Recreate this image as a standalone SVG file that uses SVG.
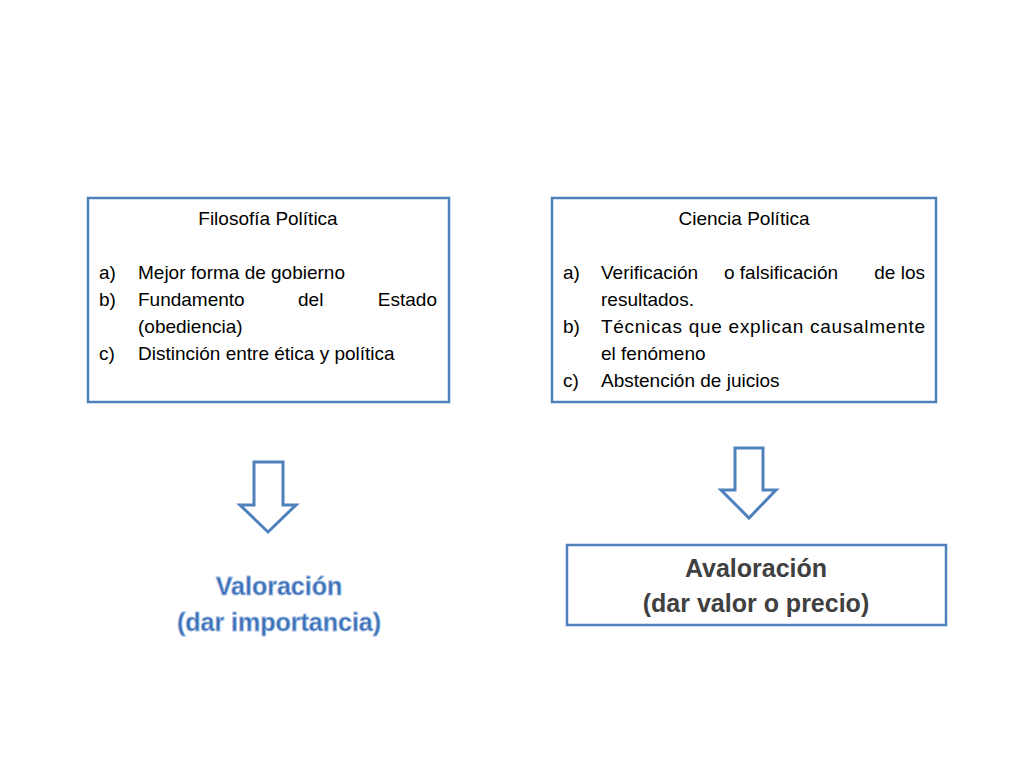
<svg xmlns="http://www.w3.org/2000/svg" width="1024" height="768" viewBox="0 0 1024 768">
<style>
.box{fill:#fff;stroke:#4f81bd;stroke-width:2.5}
.t{font-family:"Liberation Sans",Arial,sans-serif;font-size:19px;fill:#000}
.arr{fill:#fff;stroke:#4f81bd;stroke-width:3;stroke-linejoin:miter}
.big{font-family:"Liberation Sans",Arial,sans-serif;font-size:25px;font-weight:bold;text-anchor:middle}
</style>
<rect width="1024" height="768" fill="#fff"/>
<g id="filosofia">
<rect class="box" x="88" y="198" width="361" height="204"/>
<text class="t" x="268" y="225" text-anchor="middle">Filosofía Política</text>
<text class="t" x="99" y="279">a)</text><text class="t" x="138" y="279">Mejor  forma de gobierno</text>
<text class="t" x="99" y="306">b)</text><text class="t" x="138" y="306">Fundamento</text><text class="t" x="298" y="306">del</text><text class="t" x="437" y="306" text-anchor="end">Estado</text>
<text class="t" x="138" y="333">(obediencia)</text>
<text class="t" x="99" y="360">c)</text><text class="t" x="138" y="360">Distinción entre ética    y política</text>
</g>
<g id="ciencia">
<rect class="box" x="552" y="198" width="384" height="204"/>
<text class="t" x="744" y="225" text-anchor="middle">Ciencia Política</text>
<text class="t" x="563" y="279">a)</text><text class="t" x="601" y="279">Verificación</text><text class="t" x="724" y="279">o falsificación</text><text class="t" x="925" y="279" text-anchor="end">de los</text>
<text class="t" x="601" y="306">resultados.</text>
<text class="t" x="563" y="333">b)</text><text class="t" x="601" y="333" textLength="324"> Técnicas que explican causalmente</text>
<text class="t" x="601" y="360">el  fenómeno</text>
<text class="t" x="563" y="387">c)</text><text class="t" x="601" y="387">Abstención de juicios</text>
</g>
<g id="connectors">
<path class="arr" d="M254,462 H283 V505 H296 L268,532 L240,505 H254 Z"/>
<path class="arr" d="M735,448 H763 V490 H776 L749,518 L721,490 H735 Z"/>
</g>
<g id="valoracion">
<text class="big" x="279" y="595" fill="#3d6fb5" stroke="#9dbbe3" stroke-width="0.8">Valoración</text>
<text class="big" x="279" y="631" fill="#3d6fb5" stroke="#9dbbe3" stroke-width="0.8">(dar importancia)</text>
</g>
<g id="avaloracion">
<rect class="box" x="567" y="545" width="379" height="80"/>
<text class="big" x="756" y="577" fill="#404040">Avaloración</text>
<text class="big" x="756" y="612" fill="#404040">(dar valor o precio)</text>
</g>
</svg>
